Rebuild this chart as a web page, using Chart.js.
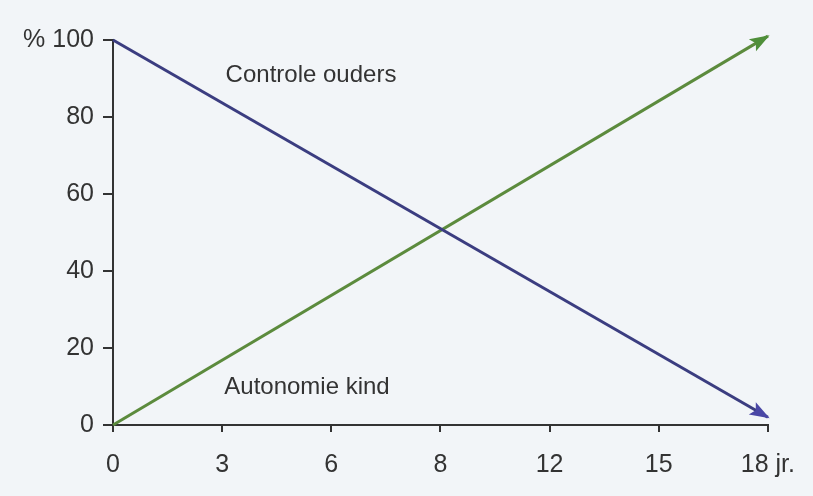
<!DOCTYPE html>
<html>
<head>
<meta charset="utf-8">
<script src="https://cdn.jsdelivr.net/npm/chart.js@4"></script>
<style>
  html, body { margin: 0; padding: 0; background: #f2f5f8; }
  #wrap { width: 813px; height: 496px; }
</style>
</head>
<body>
<div id="wrap"><canvas id="myChart" width="813" height="496"></canvas></div>
<script>
var labels = ['0', '3', '6', '8', '12', '15', '18 jr.'];
var controleOuders = [100, null, null, null, null, null, 2];
var autonomieKind = [0, null, null, null, null, null, 101];
var yTicks = [0, 20, 40, 60, 80, 100];

var font = "'Liberation Sans', Arial, sans-serif";

var arrows = {
  id: 'arrows',
  afterDatasetsDraw: function (chart) {
    var c = chart.ctx;
    chart.data.datasets.forEach(function (ds, i) {
      var pts = chart.getDatasetMeta(i).data;
      var a = pts[0], b = pts[pts.length - 1];
      var ang = Math.atan2(b.y - a.y, b.x - a.x);
      c.save();
      c.translate(b.x, b.y);
      c.rotate(ang);
      c.fillStyle = ds.arrowColor;
      c.beginPath();
      c.moveTo(2, 0);
      c.lineTo(-18, -7);
      c.lineTo(-14, 0);
      c.lineTo(-18, 7);
      c.closePath();
      c.fill();
      c.restore();
    });
  }
};

var texts = {
  id: 'texts',
  afterDraw: function (chart) {
    var c = chart.ctx;
    c.save();
    c.fillStyle = '#333';
    c.font = '24px ' + font;
    c.textAlign = 'center';
    c.textBaseline = 'middle';
    c.fillText('Controle ouders', 311, 75);
    c.fillText('Autonomie kind', 307, 387);
    c.restore();
  }
};

var ctx = document.getElementById('myChart').getContext('2d');
var myChart = new Chart(ctx, {
  type: 'line',
  data: {
    labels: labels,
    datasets: [{
      label: 'Controle ouders',
      data: controleOuders,
      borderColor: '#3b3d80',
      arrowColor: '#4a47a6',
      borderWidth: 3,
      pointRadius: 0,
      spanGaps: true,
      clip: false
    }, {
      label: 'Autonomie kind',
      data: autonomieKind,
      borderColor: '#5c8b3d',
      arrowColor: '#4f8f3a',
      borderWidth: 3,
      pointRadius: 0,
      spanGaps: true,
      clip: false
    }]
  },
  options: {
    responsive: false,
    animation: false,
    layout: { padding: { top: 40, right: 42, left: 0, bottom: 0 } },
    plugins: {
      legend: { display: false },
      tooltip: { enabled: false }
    },
    scales: {
      x: {
        offset: false,
        grid: { drawOnChartArea: false, tickLength: 7, color: '#333', lineWidth: 2 },
        border: { color: '#333', width: 2 },
        ticks: { color: '#333', font: { family: font, size: 25 }, padding: 18, maxRotation: 0, autoSkip: false },
        afterFit: function (s) { s.height = 71; }
      },
      y: {
        min: 0,
        max: 100,
        afterBuildTicks: function (s) { s.ticks = yTicks.map(function (v) { return { value: v }; }); },
        grid: { drawOnChartArea: false, tickLength: 10, color: '#333', lineWidth: 2 },
        border: { color: '#333', width: 2 },
        ticks: {
          color: '#333',
          font: { family: font, size: 25 },
          padding: 9,
          callback: function (v) { return v === 100 ? '% 100' : v; }
        },
        afterFit: function (s) { s.width = 113; }
      }
    }
  },
  plugins: [arrows, texts]
});
</script>
</body>
</html>
